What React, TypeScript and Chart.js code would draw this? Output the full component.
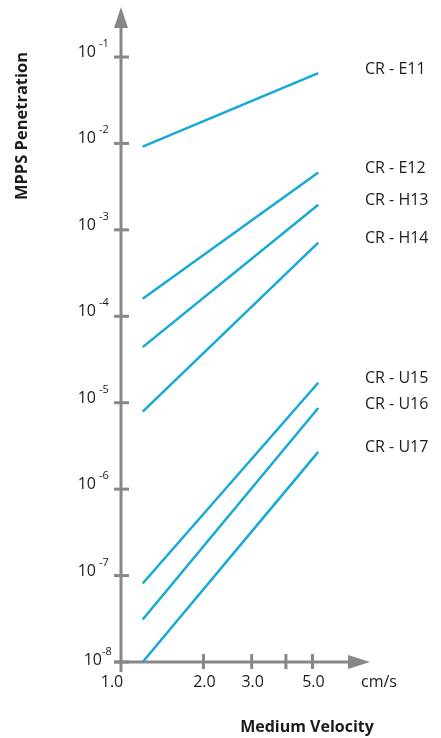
import React, { useEffect, useRef } from "react";
import { Chart, registerables } from "chart.js";

Chart.register(...registerables);

const velocities = [1.2, 5.25];
const seriesNames = ["CR - E11", "CR - E12", "CR - H13", "CR - H14", "CR - U15", "CR - U16", "CR - U17"];
const e11 = [0.0092, 0.065];
const e12 = [1.6e-4, 4.6e-3];
const h13 = [4.4e-5, 1.95e-3];
const h14 = [7.9e-6, 7.1e-4];
const u15 = [8.1e-8, 1.7e-5];
const u16 = [3.1e-8, 8.7e-6];
const u17 = [1.0e-8, 2.7e-6];
const yTickValues = [1e-1, 1e-2, 1e-3, 1e-4, 1e-5, 1e-6, 1e-7, 1e-8];
const yTickExponents = ["-1", "-2", "-3", "-4", "-5", "-6", "-7", "-8"];
const xTickValues = [1, 2, 3, 4, 5];
const xTickLabels = ["1.0", "2.0", "3.0", "", "5.0"];
const xUnit = "cm/s";
const xTitle = "Medium Velocity";
const yTitle = "MPPS Penetration";

const LINE = "#15a9d6";
const AXIS = "#878789";
const TEXT = "#1d1b1c";
const FONT = "'Open Sans', sans-serif";

const axesPlugin = {
  id: "customAxes",
  beforeDatasetsDraw(chart: any) {
    const ctx = chart.ctx;
    const xs = chart.scales.x;
    const ys = chart.scales.y;
    const area = chart.chartArea;
    const ox = xs.getPixelForValue(1);
    const oy = ys.getPixelForValue(1e-8);
    ctx.save();
    ctx.strokeStyle = AXIS;
    ctx.fillStyle = AXIS;
    ctx.lineWidth = 3;
    ctx.beginPath();
    ctx.moveTo(ox, area.top + 18);
    ctx.lineTo(ox, oy + 10);
    ctx.stroke();
    ctx.beginPath();
    ctx.moveTo(ox, area.top);
    ctx.lineTo(ox - 7, area.top + 21);
    ctx.lineTo(ox + 7, area.top + 21);
    ctx.closePath();
    ctx.fill();
    ctx.beginPath();
    ctx.moveTo(ox - 7, oy);
    ctx.lineTo(area.right - 18, oy);
    ctx.stroke();
    ctx.beginPath();
    ctx.moveTo(area.right, oy);
    ctx.lineTo(area.right - 22, oy - 7);
    ctx.lineTo(area.right - 22, oy + 7);
    ctx.closePath();
    ctx.fill();
    yTickValues.forEach((v) => {
      const y = ys.getPixelForValue(v);
      ctx.beginPath();
      ctx.moveTo(ox - 7, y);
      ctx.lineTo(ox + 8, y);
      ctx.stroke();
    });
    xTickValues.forEach((v) => {
      if (v === 1) return;
      const x = xs.getPixelForValue(v);
      ctx.beginPath();
      ctx.moveTo(x, oy - 8);
      ctx.lineTo(x, oy + 7);
      ctx.stroke();
    });

    ctx.fillStyle = TEXT;
    yTickValues.forEach((v, i) => {
      const y = ys.getPixelForValue(v);
      const last = i === yTickValues.length - 1;
      ctx.font = `16px ${FONT}`;
      ctx.textAlign = "right";
      ctx.textBaseline = "alphabetic";
      const right = last ? ox - 19 : ox - 25;
      ctx.fillText("10", right, y + (last ? 3 : 0));
      ctx.font = `11px ${FONT}`;
      ctx.textAlign = "left";
      ctx.fillText(yTickExponents[i], right + (last ? 0 : 3), y - (last ? 7 : 10));
    });
    ctx.font = `16px ${FONT}`;
    ctx.textAlign = "center";
    ctx.textBaseline = "middle";
    xTickValues.forEach((v, i) => {
      if (!xTickLabels[i]) return;
      const x = xs.getPixelForValue(v) + (v === 1 ? -9 : 1);
      ctx.fillText(xTickLabels[i], x, oy + 20);
    });
    ctx.fillText(xUnit, area.right + 9, oy + 20);
    ctx.font = `bold 16px ${FONT}`;
    ctx.fillText(xTitle, 307, oy + 65);
    ctx.save();
    ctx.translate(22, 126);
    ctx.rotate(-Math.PI / 2);
    ctx.font = `bold 16.5px ${FONT}`;
    ctx.fillText(yTitle, 0, 0);
    ctx.restore();
    ctx.font = `16px ${FONT}`;
    ctx.textAlign = "left";
    chart.data.datasets.forEach((ds: any, i: number) => {
      const meta = chart.getDatasetMeta(i);
      const pt = meta.data[meta.data.length - 1];
      ctx.fillText(seriesNames[i], 365, pt.y - 4);
    });
    ctx.restore();
  },
};

export default function App() {
  const ref = useRef<HTMLCanvasElement>(null);
  useEffect(() => {
    if (!ref.current) return;
    const all = [e11, e12, h13, h14, u15, u16, u17];
    const chart = new Chart(ref.current, {
      type: "line",
      data: {
        datasets: all.map((s, i) => ({
          label: seriesNames[i],
          data: velocities.map((v, j) => ({ x: v, y: s[j] })),
          borderColor: LINE,
          borderWidth: 2.5,
          pointRadius: 0,
          fill: false,
          clip: false as any,
        })),
      },
      options: {
        responsive: false,
        animation: false,
        layout: { padding: { left: 121, right: 71, top: 7, bottom: 76 } },
        plugins: { legend: { display: false }, tooltip: { enabled: false } },
        scales: {
          x: { type: "logarithmic", min: 1, max: 8.11, display: false },
          y: { type: "logarithmic", min: 1e-8, max: 0.379, display: false },
        },
      },
      plugins: [axesPlugin],
    });
    return () => chart.destroy();
  }, []);
  return (
    <div style={{ position: "absolute", left: 0, top: 0, width: 441, height: 738, background: "#fff" }}>
      <canvas ref={ref} width={441} height={738} />
    </div>
  );
}
